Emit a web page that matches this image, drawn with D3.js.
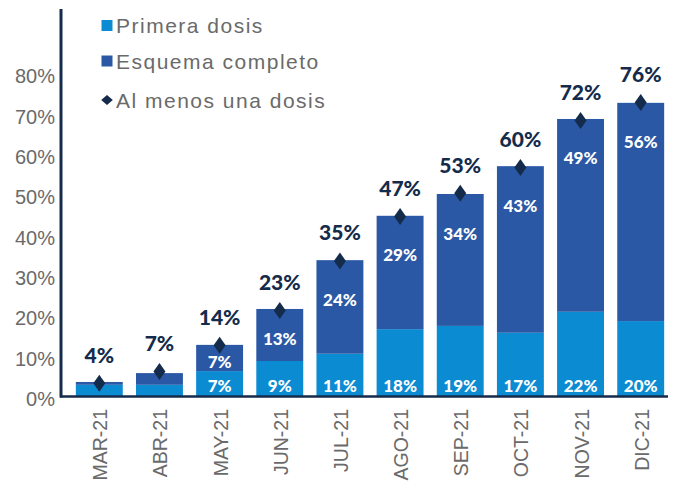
<!DOCTYPE html>
<html>
<head>
<meta charset="utf-8">
<script src="https://cdn.jsdelivr.net/npm/d3@7"></script>
<style>
  body { margin: 0; background: #fff; }
  svg { display: block; }
</style>
</head>
<body>
<div id="wrapper"></div>
<script>
// data
const months = ["MAR-21", "ABR-21", "MAY-21", "JUN-21", "JUL-21", "AGO-21", "SEP-21", "OCT-21", "NOV-21", "DIC-21"]
const primera = [2.9, 2.9, 6.3, 8.8, 10.6, 16.7, 17.5, 15.8, 21.0, 18.7]
const esquema = [0.7, 2.9, 6.5, 12.9, 23.2, 28.1, 32.7, 41.3, 47.8, 54.1]
const alMenos = [3.3, 6.2, 12.7, 21.3, 33.6, 44.6, 50.4, 56.8, 68.4, 72.9]
const primeraLabels = ["", "", "7%", "9%", "11%", "18%", "19%", "17%", "22%", "20%"]
const esquemaLabels = ["", "", "7%", "13%", "24%", "29%", "34%", "43%", "49%", "56%"]
const alMenosLabels = ["4%", "7%", "14%", "23%", "35%", "47%", "53%", "60%", "72%", "76%"]
const yTicks = [0, 10, 20, 30, 40, 50, 60, 70, 80]
const seriesNames = ["Primera dosis", "Esquema completo", "Al menos una dosis"]

const colors = {
  primera: "#0a8bd2",
  esquema: "#2a58a5",
  navy: "#142b4b",
  gray: "#6a6a6a"
}

const dimensions = { width: 677, height: 481 }

const svg = d3.select("#wrapper")
  .append("svg")
    .attr("width", dimensions.width)
    .attr("height", dimensions.height)

const data = months.map((m, i) => ({
  month: m,
  primera: primera[i],
  esquema: esquema[i],
  alMenos: alMenos[i],
  i: i
}))

// scales
const xScale = d3.scaleBand()
  .domain(months)
  .range([62, 678])
  .paddingInner(0.22)
  .paddingOuter(0.23)

const yScale = d3.scaleLinear()
  .domain([0, 80])
  .range([396.5, 73.8])

const stack = d3.stack().keys(["primera", "esquema"])
const stacked = stack(data)

// bars
const layers = svg.append("g").selectAll("g")
  .data(stacked)
  .join("g")
    .attr("fill", d => colors[d.key])

layers.selectAll("rect")
  .data(d => d)
  .join("rect")
    .attr("x", d => xScale(d.data.month))
    .attr("width", xScale.bandwidth())
    .attr("y", d => yScale(d[1]))
    .attr("height", d => yScale(d[0]) - yScale(d[1]))

// y axis
const yAxisGenerator = d3.axisLeft(yScale)
  .tickValues(yTicks)
  .tickSize(0)
  .tickFormat(d => d + "%")

const yAxis = svg.append("g")
  .attr("transform", "translate(55,0)")
  .call(yAxisGenerator)
yAxis.select(".domain").remove()
yAxis.selectAll("text")
  .attr("x", 0)
  .attr("dy", "0.45em")
  .attr("fill", colors.gray)
  .style("font-family", "'Liberation Sans', Arial, sans-serif")
  .style("font-size", "20px")

// axis lines
svg.append("line")
  .attr("x1", 61).attr("x2", 61)
  .attr("y1", 9).attr("y2", yScale(0) + 1)
  .attr("stroke", colors.navy)
  .attr("stroke-width", 3)

svg.append("line")
  .attr("x1", 60).attr("x2", 668)
  .attr("y1", yScale(0)).attr("y2", yScale(0))
  .attr("stroke", colors.navy)
  .attr("stroke-width", 2.5)

// x labels
svg.append("g").selectAll("text")
  .data(months)
  .join("text")
    .attr("transform", d => `translate(${xScale(d) + xScale.bandwidth() / 2 + 1}, 409) rotate(-90)`)
    .attr("text-anchor", "end")
    .attr("dominant-baseline", "central")
    .attr("fill", colors.gray)
    .style("font-family", "'Liberation Sans', Arial, sans-serif")
    .style("font-size", "19.5px")
    .text(d => d)

// diamonds
const diamond = "M0,-8.5L6,0L0,8.5L-6,0Z"
svg.append("g").selectAll("path")
  .data(data)
  .join("path")
    .attr("d", diamond)
    .attr("transform", d => `translate(${xScale(d.month) + xScale.bandwidth() / 2}, ${yScale(d.alMenos)})`)
    .attr("fill", colors.navy)

const labelFont = "Lato, 'Open Sans', sans-serif"

// total labels
svg.append("g").selectAll("text")
  .data(data)
  .join("text")
    .attr("x", d => xScale(d.month) + xScale.bandwidth() / 2)
    .attr("y", d => yScale(d.alMenos) - 29)
    .attr("text-anchor", "middle")
    .attr("dominant-baseline", "central")
    .attr("fill", colors.navy)
    .style("font-family", labelFont)
    .style("font-weight", 900)
    .style("font-size", "21px")
    .text(d => alMenosLabels[d.i])

// primera labels
svg.append("g").selectAll("text")
  .data(data)
  .join("text")
    .attr("x", d => xScale(d.month) + xScale.bandwidth() / 2)
    .attr("y", yScale(0) - 11.5)
    .attr("text-anchor", "middle")
    .attr("dominant-baseline", "central")
    .attr("fill", "#fff")
    .style("font-family", labelFont)
    .style("font-weight", 900)
    .style("font-size", "17px")
    .text(d => primeraLabels[d.i])

// esquema labels
svg.append("g").selectAll("text")
  .data(data)
  .join("text")
    .attr("x", d => xScale(d.month) + xScale.bandwidth() / 2)
    .attr("y", d => {
      const top = yScale(d.primera + d.esquema)
      const mid = (top + yScale(d.primera)) / 2
      return Math.min(top + 39, mid + 4)
    })
    .attr("text-anchor", "middle")
    .attr("dominant-baseline", "central")
    .attr("fill", "#fff")
    .style("font-family", labelFont)
    .style("font-weight", 900)
    .style("font-size", "17px")
    .text(d => esquemaLabels[d.i])

// legend
const legendY = [25.5, 61, 100]
const legend = svg.append("g")
const legendItems = legend.selectAll("g")
  .data(seriesNames)
  .join("g")
    .attr("transform", (d, i) => `translate(107, ${legendY[i]})`)

legendItems.filter((d, i) => i < 2)
  .append("rect")
    .attr("x", -5.5).attr("y", -5.5)
    .attr("width", 11).attr("height", 11)
    .attr("fill", (d, i) => i == 0 ? colors.primera : colors.esquema)

legendItems.filter((d, i) => i == 2)
  .append("path")
    .attr("d", "M0,-5L5.8,0L0,5L-5.8,0Z")
    .attr("fill", colors.navy)

legendItems.append("text")
  .attr("x", 9)
  .attr("dominant-baseline", "central")
  .attr("fill", colors.gray)
  .style("font-family", "'Liberation Sans', Arial, sans-serif")
  .style("font-size", "21px")
  .style("letter-spacing", "1.5px")
  .text(d => d)
</script>
</body>
</html>
